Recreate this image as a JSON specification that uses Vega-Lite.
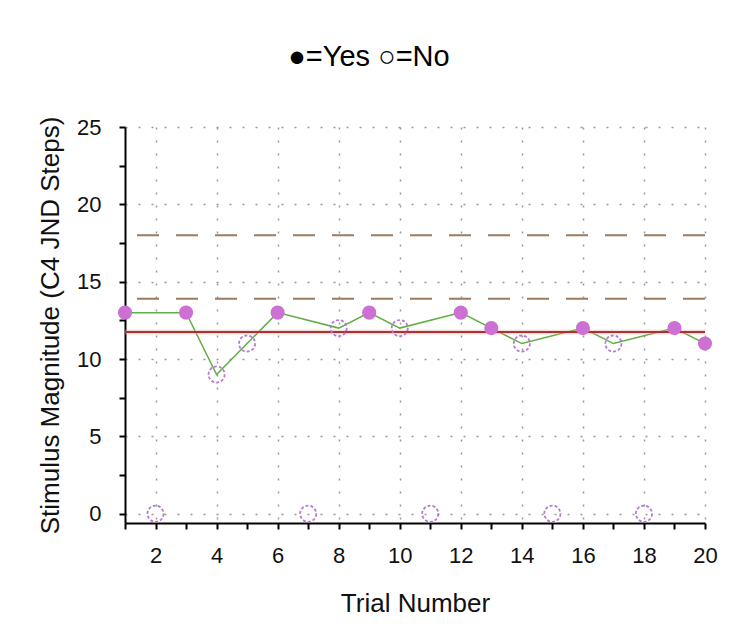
{
  "$schema": "https://vega.github.io/schema/vega-lite/v6.json",
  "width": 580,
  "height": 396,
  "autosize": {"type": "none"},
  "padding": {"left": 125, "top": 127, "right": 45, "bottom": 106},
  "background": "white",
  "title": {
    "text": "●=Yes ○=No",
    "font": "Liberation Sans",
    "fontSize": 29,
    "fontWeight": "normal",
    "color": "black",
    "anchor": "middle",
    "frame": "group",
    "baseline": "alphabetic",
    "offset": 21,
    "dx": -46
  },
  "config": {
    "view": {"stroke": null},
    "axis": {
      "labelFont": "Liberation Sans",
      "titleFont": "Liberation Sans",
      "labelFontSize": 22,
      "titleFontSize": 26,
      "titleFontWeight": "normal",
      "labelColor": "#111",
      "titleColor": "#111",
      "domainColor": "black",
      "domainWidth": 2,
      "tickColor": "black",
      "tickWidth": 2,
      "tickSize": 6,
      "gridColor": "#999999",
      "gridDash": [2, 11],
      "gridWidth": 1.5,
      "labelOverlap": false,
      "zindex": 1
    }
  },
  "datasets": {
    "trials": [
      {"trial": 1, "value": 13, "response": "Yes"},
      {"trial": 2, "value": 0, "response": "No"},
      {"trial": 3, "value": 13, "response": "Yes"},
      {"trial": 4, "value": 9, "response": "No"},
      {"trial": 5, "value": 11, "response": "No"},
      {"trial": 6, "value": 13, "response": "Yes"},
      {"trial": 7, "value": 0, "response": "No"},
      {"trial": 8, "value": 12, "response": "No"},
      {"trial": 9, "value": 13, "response": "Yes"},
      {"trial": 10, "value": 12, "response": "No"},
      {"trial": 11, "value": 0, "response": "No"},
      {"trial": 12, "value": 13, "response": "Yes"},
      {"trial": 13, "value": 12, "response": "Yes"},
      {"trial": 14, "value": 11, "response": "No"},
      {"trial": 15, "value": 0, "response": "No"},
      {"trial": 16, "value": 12, "response": "Yes"},
      {"trial": 17, "value": 11, "response": "No"},
      {"trial": 18, "value": 0, "response": "No"},
      {"trial": 19, "value": 12, "response": "Yes"},
      {"trial": 20, "value": 11, "response": "Yes"}
    ],
    "bounds": [
      {"value": 18},
      {"value": 13.9}
    ],
    "threshold": [
      {"value": 11.75}
    ]
  },
  "layer": [
    {
      "data": {"name": "trials"},
      "transform": [{"filter": "datum.value > 0"}],
      "mark": {"type": "line", "color": "#5fae45", "strokeWidth": 1.5},
      "encoding": {
        "x": {
          "field": "trial",
          "type": "quantitative",
          "scale": {"domain": [1, 20], "nice": false, "zero": false},
          "axis": {
            "title": "Trial Number",
            "values": [1,2,3,4,5,6,7,8,9,10,11,12,13,14,15,16,17,18,19,20],
            "tickCount": 20,
            "labelExpr": "datum.value % 2 == 0 ? datum.label : ''",
            "grid": true,
            "gridOpacity": {"condition": {"test": "datum.value % 2 == 0", "value": 1}, "value": 0},
            "labelPadding": 16,
            "titlePadding": 24,
            "labelFlush": false
          }
        },
        "y": {
          "field": "value",
          "type": "quantitative",
          "scale": {"domain": [-0.6, 25], "nice": false, "zero": false},
          "axis": {
            "title": "Stimulus Magnitude (C4 JND Steps)",
            "values": [0, 2.5, 5, 7.5, 10, 12.5, 15, 17.5, 20, 22.5, 25],
            "tickCount": 11,
            "labelExpr": "datum.value % 5 == 0 ? datum.label : ''",
            "grid": true,
            "gridOpacity": {"condition": {"test": "datum.value % 5 == 0", "value": 1}, "value": 0},
            "labelPadding": 18,
            "titlePadding": 13,
            "labelFlush": false
          }
        }
      }
    },
    {
      "data": {"name": "bounds"},
      "mark": {"type": "rule", "color": "#9c7b5e", "strokeWidth": 2, "strokeDash": [22, 17]},
      "encoding": {
        "y": {"field": "value", "type": "quantitative"}
      }
    },
    {
      "data": {"name": "threshold"},
      "mark": {"type": "rule", "color": "#e9a0a0", "strokeWidth": 5, "opacity": 0.35},
      "encoding": {
        "y": {"field": "value", "type": "quantitative"}
      }
    },
    {
      "data": {"name": "threshold"},
      "mark": {"type": "rule", "color": "#b03030", "strokeWidth": 2},
      "encoding": {
        "y": {"field": "value", "type": "quantitative"}
      }
    },
    {
      "data": {"name": "trials"},
      "transform": [{"filter": "datum.response == 'No'"}],
      "mark": {"type": "point", "shape": "circle", "filled": false, "stroke": "#b77ad0", "strokeWidth": 1.8, "strokeDash": [3, 2], "size": 260, "opacity": 1},
      "encoding": {
        "x": {"field": "trial", "type": "quantitative"},
        "y": {"field": "value", "type": "quantitative"}
      }
    },
    {
      "data": {"name": "trials"},
      "transform": [{"filter": "datum.response == 'Yes'"}],
      "mark": {"type": "point", "shape": "circle", "filled": true, "fill": "#cc70d4", "size": 200, "opacity": 1},
      "encoding": {
        "x": {"field": "trial", "type": "quantitative"},
        "y": {"field": "value", "type": "quantitative"}
      }
    }
  ]
}
